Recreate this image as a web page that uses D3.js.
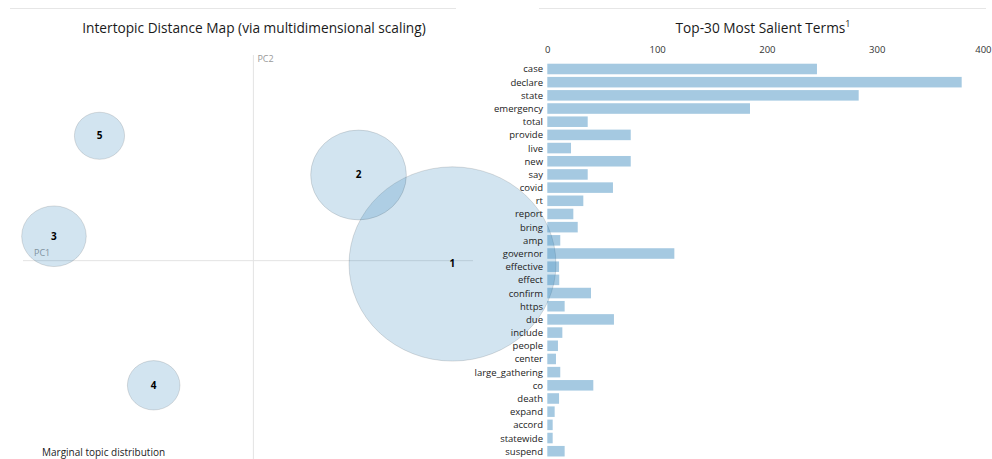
<!DOCTYPE html>
<html>
<head>
<meta charset="utf-8">
<script src="https://cdn.jsdelivr.net/npm/d3@7"></script>
<style>
  html, body { margin: 0; padding: 0; background: #fff; }
  svg { display: block; }
  text { font-family: "Open Sans", "Noto Sans", sans-serif; }
</style>
</head>
<body>
<svg id="chart" width="992" height="459"></svg>
<script>
// ---- data ----
const terms = ["case","declare","state","emergency","total","provide","live","new","say","covid",
  "rt","report","bring","amp","governor","effective","effect","confirm","https","due",
  "include","people","center","large_gathering","co","death","expand","accord","statewide","suspend"];
const termFreq = [245.6,377.4,283.6,184.6,36.8,76,21.6,76,36.8,59.8,
  32.8,23.7,27.7,11.8,115.7,10.7,10.9,39.8,15.8,60.7,
  13.7,9.7,7.9,11.8,41.9,10.7,6.7,4.9,4.9,15.8];
const freqTicks = [0, 100, 200, 300, 400];

const topics = [1, 2, 3, 4, 5];
const topicPC1 = [0.2212, 0.1168, -0.2216, -0.1108, -0.171];
const topicPC2 = [-0.0039, 0.1014, 0.0289, -0.1475, 0.1478];
const topicFreq = [69.7, 14.9, 6.8, 4.5, 4.1];

// ---- drawing ----
const svg = d3.select("#chart");

// top rules
svg.append("line").attr("x1", 10).attr("x2", 456).attr("y1", 8.5).attr("y2", 8.5)
  .attr("stroke", "#e6e6e6").attr("stroke-width", 1);
svg.append("line").attr("x1", 539).attr("x2", 986).attr("y1", 8.5).attr("y2", 8.5)
  .attr("stroke", "#e6e6e6").attr("stroke-width", 1);

// ----- left panel: intertopic distance map -----
const xPC = d3.scaleLinear().domain([-0.256, 0.244]).range([23, 473]);
const yPC = d3.scaleLinear().domain([0.2434, -0.243]).range([55, 466]);
const rScale = d3.scaleSqrt().domain([0, 100]).range([0, 0.1377]);
const pxPerX = xPC(1) - xPC(0);
const pxPerY = yPC(0) - yPC(1);

const left = svg.append("g");
left.append("text").attr("x", 254).attr("y", 32.5).attr("text-anchor", "middle")
  .attr("font-size", 13.7).attr("fill", "#1a1a1a")
  .text("Intertopic Distance Map (via multidimensional scaling)");

left.append("line").attr("x1", xPC(0)).attr("x2", xPC(0))
  .attr("y1", yPC.range()[0]).attr("y2", yPC.range()[1])
  .attr("stroke", "#e3e3e3").attr("stroke-width", 1);
left.append("line").attr("x1", xPC.range()[0]).attr("x2", xPC.range()[1])
  .attr("y1", yPC(0)).attr("y2", yPC(0))
  .attr("stroke", "#e3e3e3").attr("stroke-width", 1);
left.append("text").attr("x", xPC(0) + 4).attr("y", yPC.range()[0] + 6.5)
  .attr("font-size", 9).attr("fill", "#999").text("PC2");
left.append("text").attr("x", xPC.range()[0] + 11).attr("y", yPC(0) - 4.5)
  .attr("font-size", 9).attr("fill", "#999").text("PC1");

const circ = left.append("g");
topics.forEach((t, i) => {
  const r = rScale(topicFreq[i]);
  circ.append("ellipse")
    .attr("cx", xPC(topicPC1[i])).attr("cy", yPC(topicPC2[i]))
    .attr("rx", r * pxPerX).attr("ry", r * pxPerY)
    .attr("fill", "#1f77b4").attr("fill-opacity", 0.2)
    .attr("stroke", "#000").attr("stroke-opacity", 0.12).attr("stroke-width", 1);
});
topics.forEach((t, i) => {
  circ.append("text")
    .attr("x", xPC(topicPC1[i])).attr("y", yPC(topicPC2[i]) + 3.5)
    .attr("text-anchor", "middle").attr("font-size", 10).attr("font-weight", "bold")
    .attr("fill", "#000").text(t);
});

left.append("text").attr("x", 42).attr("y", 456).attr("font-size", 10).attr("fill", "#222")
  .text("Marginal topic distribution");

// ----- right panel: bar chart -----
const xBar = d3.scaleLinear().domain([0, 400]).range([547.3, 986.5]);
const yBar = d3.scaleBand().domain(terms).range([62.4, 62.4 + 13.18 * terms.length]).paddingInner(0.2).paddingOuter(0.1);

const right = svg.append("g");
const tt = right.append("text").attr("x", 763).attr("y", 32.5).attr("text-anchor", "middle")
  .attr("font-size", 13.7).attr("fill", "#1a1a1a");
tt.append("tspan").text("Top-30 Most Salient Terms");
tt.append("tspan").attr("font-size", 9).attr("dy", -6).text("1");

const axis = d3.axisTop(xBar).tickValues(freqTicks).tickSize(0).tickPadding(0);
const ag = right.append("g").attr("transform", "translate(0,53)").call(axis);
ag.select(".domain").remove();
ag.selectAll("text").attr("font-size", 9.5).attr("fill", "#333")
  .attr("font-family", "\"Open Sans\", \"Noto Sans\", sans-serif").attr("dy", 0);
// keep the last tick label inside the page edge
ag.selectAll(".tick").filter(d => d === freqTicks[freqTicks.length - 1])
  .select("text").attr("text-anchor", "end").attr("x", 991 - xBar(freqTicks[freqTicks.length - 1]));

right.selectAll("rect.bar").data(terms).enter().append("rect")
  .attr("class", "bar")
  .attr("x", xBar(0)).attr("y", d => yBar(d))
  .attr("width", (d, i) => xBar(termFreq[i]) - xBar(0))
  .attr("height", yBar.bandwidth())
  .attr("fill", "#1f77b4").attr("fill-opacity", 0.4);

right.selectAll("text.term").data(terms).enter().append("text")
  .attr("class", "term")
  .attr("x", 543).attr("y", d => yBar(d) + yBar.bandwidth() / 2 + 3.5)
  .attr("text-anchor", "end").attr("font-size", 9.5).attr("fill", "#222")
  .text(d => d);
</script>
</body>
</html>
